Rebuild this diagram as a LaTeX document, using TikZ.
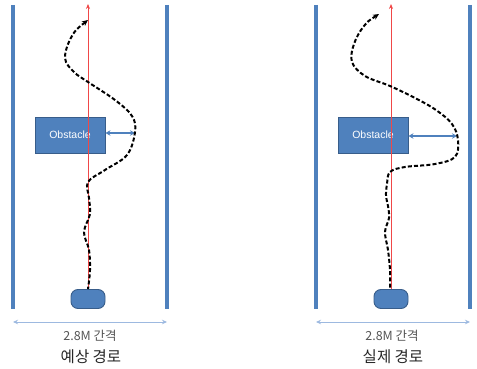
\documentclass[tikz,border=0pt]{standalone}
\usepackage{fontspec}
\setmainfont{Liberation Sans}
\newfontfamily\kr{Noto Sans CJK KR}
\usetikzlibrary{arrows.meta}
\definecolor{wallblue}{HTML}{4F81BD}
\definecolor{boxedge}{HTML}{385D8A}
\definecolor{dimblue}{HTML}{9DB9E0}
\definecolor{redline}{HTML}{F04848}
\definecolor{txtgrey}{HTML}{555555}
\tikzset{
  wall/.style={wallblue, line width=3.4pt},
  obstaclebox/.style={draw=boxedge, fill=wallblue, line width=0.9pt, minimum width=70pt, minimum height=36pt, text=white, font=\fontsize{10.5}{12}\selectfont, inner sep=0pt},
  robot/.style={draw=boxedge, fill=wallblue, line width=0.9pt, rounded corners=7pt, minimum width=34pt, minimum height=19pt, inner sep=0pt},
  centerline/.style={redline, line width=0.7pt, -{Stealth[length=5pt,width=4pt]}},
  gaparrow/.style={wallblue, line width=1.4pt, {Stealth[length=5pt,width=5.5pt]}-{Stealth[length=5pt,width=5.5pt]}},
  dimarrow/.style={dimblue, line width=0.8pt, {Stealth[length=5pt,width=4.5pt]}-{Stealth[length=5pt,width=4.5pt]}},
  pathline/.style={black, line width=2pt, dash pattern=on 4pt off 2.2pt, {Stealth[length=6pt,width=5.5pt]}-},
  dimtext/.style={text=txtgrey, font=\fontsize{12.5}{14}\selectfont\kr},
  titletext/.style={text=black!85, font=\fontsize{15.5}{17}\selectfont\kr},
}
\begin{document}
\begin{tikzpicture}[x=1pt,y=-1pt]
\useasboundingbox (0,0) rectangle (477,369);
% ---------- left panel ----------
\coordinate (lwA1) at (13,5); \coordinate (lwA2) at (13,309);
\coordinate (lwB1) at (167,5); \coordinate (lwB2) at (167,309);
\draw[wall] (lwA1) -- (lwA2);
\draw[wall] (lwB1) -- (lwB2);
\node[robot] (robotL) at (88,299) {};
\coordinate (topL) at (88,4);
\node[obstaclebox] (obsL) at (70,135) {Obstacle};
\draw[centerline] (robotL.north) -- (topL);
\coordinate (gapL) at (135,133);
\draw[gaparrow] (obsL.east |- gapL) -- (gapL);
\draw[pathline] plot[smooth, tension=0.6] coordinates {(88,20) (72,36) (65,58) (74,72) (88,82) (115,100) (132,116) (135,132) (127,155) (105,170) (88,182) (89,198) (90,214) (84,232) (89,250) (90,270) (88,289)};
\coordinate (dimLa) at (13,322); \coordinate (dimLb) at (167,322);
\draw[dimarrow] (dimLa) -- (dimLb);
\node[dimtext] (dimLt) at (90,336) {2.8M 간격};
\node[titletext] (titleL) at (91,357) {예상 경로};
% ---------- right panel ----------
\coordinate (rwA1) at (316,5); \coordinate (rwA2) at (316,309);
\coordinate (rwB1) at (470,5); \coordinate (rwB2) at (470,309);
\draw[wall] (rwA1) -- (rwA2);
\draw[wall] (rwB1) -- (rwB2);
\node[robot] (robotR) at (391,299) {};
\coordinate (topR) at (391,4);
\node[obstaclebox] (obsR) at (373,135) {Obstacle};
\draw[centerline] (robotR.north) -- (topR);
\coordinate (gapR) at (457,136);
\draw[gaparrow] (obsR.east |- gapR) -- (gapR);
\draw[pathline] plot[smooth, tension=0.6] coordinates {(379,14) (364,26) (354,44) (352,62) (365,76) (390,86) (415,98) (436,110) (452,124) (458,140) (455,157) (435,164) (405,167) (390,172) (387,184) (386,196) (388,206) (389,218) (385,232) (388,250) (390,270) (390,289)};
\coordinate (dimRa) at (316,322); \coordinate (dimRb) at (470,322);
\draw[dimarrow] (dimRa) -- (dimRb);
\node[dimtext] (dimRt) at (392,336) {2.8M 간격};
\node[titletext] (titleR) at (393,357) {실제 경로};
\end{tikzpicture}
\end{document}
